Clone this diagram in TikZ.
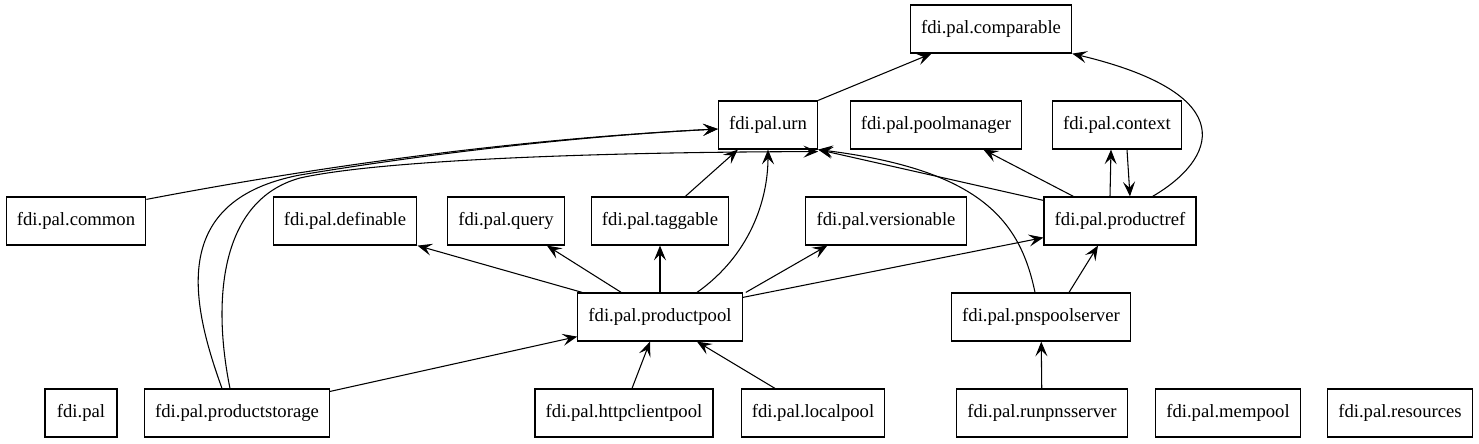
\documentclass[tikz,border=0pt]{standalone}
\usepackage{fontspec}
\setmainfont{Liberation Serif}
\usepackage{tikz}
\usetikzlibrary{arrows.meta, calc}

\begin{document}
\begin{tikzpicture}[x=0.75pt, y=-0.75pt,
  pkg/.style={draw, line width=0.9pt, minimum height=36pt, minimum width=54pt, inner xsep=8pt, font=\fontsize{14pt}{16pt}\selectfont},
  dep/.style={-{Stealth[length=11pt, width=9pt, inset=4.5pt]}, line width=0.8pt}]
  \useasboundingbox (0,0) rectangle (1479,443);
  % Top rows
  \node[pkg] (cmp) at (991,29) {fdi.pal.comparable};
  \node[pkg] (urn) at (768,125) {fdi.pal.urn};
  \node[pkg] (pmgr) at (936,125) {fdi.pal.poolmanager};
  \node[pkg] (ctx) at (1117,125) {fdi.pal.context};
  % Middle row
  \node[pkg] (common) at (76,221) {fdi.pal.common};
  \node[pkg] (defn) at (345,221) {fdi.pal.definable};
  \node[pkg] (query) at (506,221) {fdi.pal.query};
  \node[pkg] (tag) at (660,221) {fdi.pal.taggable};
  \node[pkg] (vers) at (886,221) {fdi.pal.versionable};
  \node[pkg] (pref) at (1120,221) {fdi.pal.productref};
  \node[pkg] (ppool) at (660,317) {fdi.pal.productpool};
  \node[pkg] (pnsps) at (1041,317) {fdi.pal.pnspoolserver};
  % Bottom row
  \node[pkg] (pal) at (81,413) {fdi.pal};
  \node[pkg] (pstor) at (237,413) {fdi.pal.productstorage};
  \node[pkg] (http) at (624,413) {fdi.pal.httpclientpool};
  \node[pkg] (local) at (813,413) {fdi.pal.localpool};
  \node[pkg] (runpns) at (1042,413) {fdi.pal.runpnsserver};
  \node[pkg] (mem) at (1228,413) {fdi.pal.mempool};
  \node[pkg] (res) at (1400,413) {fdi.pal.resources};
  % Dependencies
  \draw[dep] (urn.north east) -- (cmp);
  \draw[dep] ($(pref.north east)+(-44,0)$) .. controls (1215,160) and (1245,95) .. (cmp.south east);
  \draw[dep] ($(pref.north)+(-10,0)$) -- ($(ctx.south)+(-6,0)$);
  \draw[dep] ($(ctx.south)+(10,0)$) -- ($(pref.north)+(10,0)$);
  \draw[dep] ($(pref.north west)+(30,0)$) -- ($(pmgr.south east)+(-39,0)$);
  \draw[dep] ($(pref.north west)+(0,4)$) -- (urn.south east);
  \draw[dep] ($(pnsps.north)+(-6,0)$) .. controls (1020,220) and (980,170) .. (urn.south east);
  \draw[dep] ($(pnsps.north)+(28,0)$) -- ($(pref.south)+(-22,0)$);
  \draw[dep] (runpns) -- (pnsps);
  \draw[dep] ($(common.north east)+(0,3)$) .. controls (300,170) and (500,140) .. ($(urn.west)+(0,4)$);
  \draw[dep] ($(pstor.north)+(-15,0)$) .. controls (190,300) and (170,200) .. (300,175)
    .. controls (450,150) and (600,135) .. ($(urn.west)+(0,4)$);
  \draw[dep] ($(pstor.north)+(-7,0)$) .. controls (212,300) and (220,200) .. (300,178)
    .. controls (380,160) and (600,152) .. ($(urn.south east)+(0,2)$);
  \draw[dep] ($(pstor.north east)+(0,3)$) -- ($(ppool.south west)+(0,-5)$);
  \draw[dep] ($(ppool.north west)+(5,0)$) -- (defn.south east);
  \draw[dep] ($(ppool.north west)+(44,0)$) -- ($(query.south east)+(-18,0)$);
  \draw[dep] (ppool) -- (tag);
  \draw[dep] ($(tag.north east)+(-44,0)$) -- ($(urn.south west)+(20,0)$);
  \draw[dep] ($(ppool.north)+(37,0)$) .. controls (750,255) and (768,200) .. (urn.south);
  \draw[dep] ($(ppool.north east)+(3,0)$) -- ($(vers.south west)+(22,0)$);
  \draw[dep] ($(ppool.north east)+(0,5)$) -- ($(pref.south west)+(0,-8)$);
  \draw[dep] ($(http.north)+(8,0)$) -- ($(ppool.south)+(-10,0)$);
  \draw[dep] ($(local.north)+(-38,0)$) -- ($(ppool.south)+(37,0)$);
\end{tikzpicture}
\end{document}
